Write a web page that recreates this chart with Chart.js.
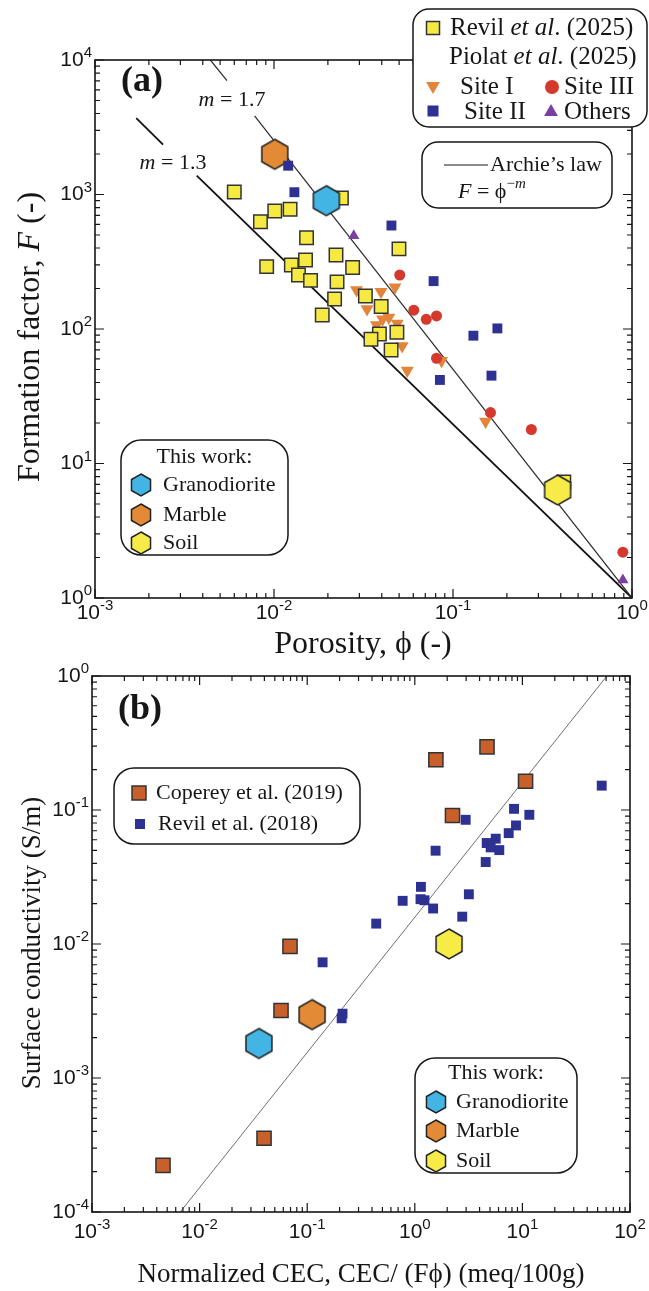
<!DOCTYPE html>
<html>
<head>
<meta charset="utf-8">
<title>Formation factor and surface conductivity</title>
<script src="https://cdn.jsdelivr.net/npm/chart.js@4.4.1/dist/chart.umd.min.js"></script>
<style>
  body { margin: 0; background: #fff; }
  #page { position: relative; width: 649px; height: 1291px; overflow: hidden; }
  canvas { position: absolute; left: 0; }
</style>
</head>
<body>
<div id="page">
  <canvas id="panelA" width="649" height="660" style="top:0px"></canvas>
  <canvas id="panelB" width="649" height="631" style="top:660px"></canvas>
</div>
<script>
// ---- Panel (a): porosity (-) vs formation factor (-) ----
const revil2025Phi = [0.0060, 0.0084, 0.0101, 0.0123, 0.0152, 0.0091, 0.0125, 0.0150, 0.0137, 0.0160, 0.0222, 0.0275,
                      0.0225, 0.0218, 0.0186, 0.0324, 0.0397, 0.0486, 0.0388, 0.0348, 0.0451, 0.0499, 0.0238, 0.416];
const revil2025F = [1044, 628, 754, 776, 477, 291, 299, 326, 252, 230, 355, 287,
                    224, 167, 127, 176, 147, 94.5, 91.8, 83.8, 69.8, 394, 942, 7.3];

const siteIPhi = [0.0289, 0.0396, 0.0474, 0.0331, 0.0404, 0.0438, 0.0488, 0.0374, 0.0520, 0.0555, 0.0863, 0.152];
const siteIF = [195, 189, 204, 141, 118, 122, 110, 107, 74.8, 49.1, 58.1, 20.5];

const siteIIPhi = [0.0120, 0.0130, 0.0453, 0.0779, 0.130, 0.177, 0.164, 0.0845];
const siteIIF = [1637, 1040, 588, 227, 89.2, 101, 45.0, 41.8];

const siteIIIPhi = [0.0504, 0.0604, 0.0709, 0.0809, 0.0809, 0.162, 0.274, 0.889];
const siteIIIF = [252, 138, 118, 125, 60.6, 23.9, 17.9, 2.19];

const othersPhi = [0.0279, 0.889];
const othersF = [494, 1.36];

const rockTypes = ['Granodiorite', 'Marble', 'Soil'];
const thisWorkPhi = [0.0196, 0.0101, 0.384];
const thisWorkF = [899, 1991, 6.35];

// Archie's law, F = phi^-m, each line has a gap where its label sits
const archie13Phi = [[0.0017, 0.0024], [0.0037, 1]];
const archie13F = [[3700, 2350], [1380, 1]];
const archie17Phi = [[0.00441, 0.00546], [0.00779, 1]];
const archie17F = [[10000, 7030], [3840, 1]];

// ---- Panel (b): normalized CEC (meq/100g) vs surface conductivity (S/m) ----
const copereyCEC = [1.57, 4.69, 10.7, 2.24, 0.0692, 0.0571, 0.0397, 0.00457];
const copereySigma = [0.237, 0.296, 0.164, 0.091, 0.00961, 0.00319, 0.000355, 0.000223];

const revil2018CEC = [8.36, 11.6, 8.72, 7.46, 5.65, 4.66, 5.07, 6.10, 4.56, 2.97, 1.56, 1.14,
                      0.771, 1.13, 1.23, 1.48, 3.18, 2.76, 0.438, 0.139, 0.213, 0.209, 54.6];
const revil2018Sigma = [0.102, 0.0921, 0.0767, 0.0672, 0.0611, 0.0567, 0.0526, 0.0502, 0.0409, 0.0845, 0.0497, 0.0267,
                        0.0210, 0.0216, 0.0212, 0.0184, 0.0235, 0.0160, 0.0142, 0.00730, 0.00302, 0.00279, 0.152];

const thisWorkCEC = [0.0356, 0.111, 2.08];
const thisWorkSigma = [0.00181, 0.00297, 0.0100];

const trendCEC = [0.0066, 61];
const trendSigma = [0.0001, 1];

// tick decades
const porosityExps = [-3, -2, -1, 0];
const formationExps = [0, 1, 2, 3, 4];
const cecExps = [-3, -2, -1, 0, 1, 2];
const sigmaExps = [-4, -3, -2, -1, 0];

// colors
const INK = '#161616';
const YELLOW = '#f6ea42';
const ORANGE_TRI = '#e2843a';
const RED = '#d5382c';
const BLUE = '#2d3192';
const PURPLE = '#7a3fa0';
const COPEREY = '#c9602c';
const rockColors = ['#42b5e4', '#e28a36', '#f7eb48'];

const SERIF = '"Liberation Serif", "Times New Roman", serif';
const SANS = '"Liberation Sans", Arial, sans-serif';
const TITLE_A = '32px ' + SERIF;
const TITLE_B = '27px ' + SERIF;
const LEG = '22px ' + SERIF;

const pts = (xs, ys) => xs.map((x, i) => ({ x: x, y: ys[i] }));

// ---- little drawing helpers ----
function hexPath(g, x, y, r) {
    g.beginPath();
    for (let k = 0; k < 6; k++) {
        const a = Math.PI / 3 * k - Math.PI / 2;
        const px = x + r * Math.cos(a), py = y + r * Math.sin(a);
        if (k) g.lineTo(px, py); else g.moveTo(px, py);
    }
    g.closePath();
}

function hexMarker(g, x, y, r, fill) {
    hexPath(g, x, y, r);
    g.fillStyle = fill;
    g.fill();
    g.lineWidth = 1.5;
    g.strokeStyle = '#222';
    g.stroke();
}

function hexImage(fill, r) {
    const c = document.createElement('canvas');
    const s = Math.ceil(2 * r + 4);
    c.width = s;
    c.height = s;
    hexMarker(c.getContext('2d'), s / 2, s / 2, r, fill);
    return c;
}

function squareMarker(g, x, y, side, fill, stroke) {
    g.fillStyle = fill;
    g.fillRect(x - side / 2, y - side / 2, side, side);
    if (stroke) {
        g.lineWidth = 1.5;
        g.strokeStyle = stroke;
        g.strokeRect(x - side / 2, y - side / 2, side, side);
    }
}

function triMarker(g, x, y, r, fill, down) {
    const s = down ? -1 : 1;
    g.beginPath();
    g.moveTo(x, y - s * r);
    g.lineTo(x + r * 0.866, y + s * r * 0.5);
    g.lineTo(x - r * 0.866, y + s * r * 0.5);
    g.closePath();
    g.fillStyle = fill;
    g.fill();
}

function dotMarker(g, x, y, r, fill) {
    g.beginPath();
    g.arc(x, y, r, 0, Math.PI * 2);
    g.fillStyle = fill;
    g.fill();
}

function roundBox(g, x, y, w, h, r) {
    g.beginPath();
    g.moveTo(x + r, y);
    g.arcTo(x + w, y, x + w, y + h, r);
    g.arcTo(x + w, y + h, x, y + h, r);
    g.arcTo(x, y + h, x, y, r);
    g.arcTo(x, y, x + w, y, r);
    g.closePath();
    g.fillStyle = '#fff';
    g.fill();
    g.lineWidth = 1.5;
    g.strokeStyle = INK;
    g.stroke();
}

// text made of runs with their own font and vertical shift
function drawRuns(g, runs, x, y, align) {
    let total = 0;
    runs.forEach(r => { g.font = r.font; r.w = g.measureText(r.text).width; total += r.w; });
    let cx = align === 'center' ? x - total / 2 : align === 'right' ? x - total : x;
    g.textAlign = 'left';
    g.textBaseline = 'middle';
    g.fillStyle = INK;
    runs.forEach(r => { g.font = r.font; g.fillText(r.text, cx, y + (r.dy || 0)); cx += r.w; });
}

function powLabel(exp) {
    return [{ text: '10', font: '21px ' + SANS }, { text: String(exp), font: '15px ' + SANS, dy: -7 }];
}

function logTicks(exps) {
    const out = [];
    exps.forEach((e, i) => {
        const base = Math.pow(10, e);
        out.push({ v: base, major: true, exp: e });
        if (i < exps.length - 1) {
            for (let k = 2; k <= 9; k++) out.push({ v: k * base, major: false });
        }
    });
    return out;
}

function drawAxes(chart, xExps, yExps, xLabelDy) {
    const g = chart.ctx;
    const a = chart.chartArea;
    const xs = chart.scales.x, ys = chart.scales.y;
    g.save();
    g.strokeStyle = INK;
    g.lineWidth = 1.2;
    g.beginPath();
    logTicks(xExps).forEach(t => {
        const px = xs.getPixelForValue(t.v);
        const len = t.major ? 9 : 5;
        g.moveTo(px, a.bottom); g.lineTo(px, a.bottom - len);
        g.moveTo(px, a.top); g.lineTo(px, a.top + len);
    });
    logTicks(yExps).forEach(t => {
        const py = ys.getPixelForValue(t.v);
        const len = t.major ? 9 : 5;
        g.moveTo(a.left, py); g.lineTo(a.left + len, py);
        g.moveTo(a.right, py); g.lineTo(a.right - len, py);
    });
    g.stroke();
    g.lineWidth = 1.6;
    g.strokeRect(a.left, a.top, a.right - a.left, a.bottom - a.top);
    logTicks(xExps).filter(t => t.major).forEach(t => {
        drawRuns(g, powLabel(t.exp), xs.getPixelForValue(t.v), a.bottom + xLabelDy, 'center');
    });
    logTicks(yExps).filter(t => t.major).forEach(t => {
        drawRuns(g, powLabel(t.exp), a.left - 3, ys.getPixelForValue(t.v), 'right');
    });
    g.restore();
}

function rotatedTitle(g, runs, x, y) {
    g.save();
    g.translate(x, y);
    g.rotate(-Math.PI / 2);
    drawRuns(g, runs, 0, 0, 'center');
    g.restore();
}

function thisWorkLegend(g, x, y, w, h, titleY, hexX, rowYs, textX) {
    roundBox(g, x, y, w, h, 20);
    drawRuns(g, [{ text: 'This work:', font: LEG }], x + w / 2, titleY, 'center');
    rockTypes.forEach((name, i) => {
        hexMarker(g, hexX, rowYs[i], 11, rockColors[i]);
        drawRuns(g, [{ text: name, font: LEG }], textX, rowYs[i], 'left');
    });
}

function decorA(chart) {
    const g = chart.ctx;
    drawAxes(chart, porosityExps, formationExps, 15);
    g.save();
    drawRuns(g, [{ text: '(a)', font: 'bold 36px ' + SERIF }], 121, 82, 'left');
    drawRuns(g, [{ text: 'm', font: 'italic 22px ' + SERIF }, { text: ' = 1.7', font: '22px ' + SERIF }], 232, 100, 'center');
    drawRuns(g, [{ text: 'm', font: 'italic 22px ' + SERIF }, { text: ' = 1.3', font: '22px ' + SERIF }], 173, 163, 'center');
    drawRuns(g, [{ text: 'Porosity, \u03d5 (-)', font: TITLE_A }], 363, 645, 'center');
    rotatedTitle(g, [{ text: 'Formation factor, ', font: TITLE_A }, { text: 'F', font: 'italic ' + TITLE_A },
                     { text: ' (-)', font: TITLE_A }], 31, 337);

    // references legend
    const LG = '25px ' + SERIF;
    roundBox(g, 413, 9, 234, 118, 16);
    squareMarker(g, 433, 28, 13, YELLOW, '#333');
    drawRuns(g, [{ text: 'Revil ', font: LG }, { text: 'et al', font: 'italic ' + LG }, { text: '. (2025)', font: LG }], 450, 28, 'left');
    drawRuns(g, [{ text: 'Piolat ', font: LG }, { text: 'et al', font: 'italic ' + LG }, { text: '. (2025)', font: LG }], 449, 57, 'left');
    triMarker(g, 433, 86, 8, ORANGE_TRI, true);
    drawRuns(g, [{ text: 'Site I', font: LG }], 460, 87, 'left');
    dotMarker(g, 552, 87, 7, RED);
    drawRuns(g, [{ text: 'Site III', font: LG }], 564, 87, 'left');
    squareMarker(g, 433, 111, 11, BLUE);
    drawRuns(g, [{ text: 'Site II', font: LG }], 464, 112, 'left');
    triMarker(g, 551, 112, 8, PURPLE, false);
    drawRuns(g, [{ text: 'Others', font: LG }], 564, 112, 'left');

    // Archie legend
    roundBox(g, 422, 142, 190, 66, 16);
    g.beginPath();
    g.moveTo(444, 165); g.lineTo(488, 165);
    g.lineWidth = 1.2; g.strokeStyle = INK; g.stroke();
    drawRuns(g, [{ text: 'Archie\u2019s law', font: LEG }], 490, 165, 'left');
    drawRuns(g, [{ text: 'F', font: 'italic ' + LEG }, { text: ' = \u03d5', font: LEG },
                 { text: '\u2212', font: '15px ' + SERIF, dy: -8 }, { text: 'm', font: 'italic 15px ' + SERIF, dy: -8 }], 458, 192, 'left');

    thisWorkLegend(g, 121, 440, 167, 115, 457, 141, [485, 515, 543], 163);
    g.restore();
}

function decorB(chart) {
    const g = chart.ctx;
    drawAxes(chart, cecExps, sigmaExps, 20);
    g.save();
    drawRuns(g, [{ text: '(b)', font: 'bold 36px ' + SERIF }], 118, 50, 'left');
    drawRuns(g, [{ text: 'Normalized CEC, CEC/ (F\u03d5) (meq/100g)', font: TITLE_B }], 361, 615, 'center');
    rotatedTitle(g, [{ text: 'Surface conductivity (S/m)', font: TITLE_B }], 33, 283);

    roundBox(g, 114, 108, 246, 76, 20);
    squareMarker(g, 139, 133, 14, COPEREY, '#333');
    drawRuns(g, [{ text: 'Coperey et al. (2019)', font: LEG }], 156, 133, 'left');
    squareMarker(g, 140, 164, 10, BLUE);
    drawRuns(g, [{ text: 'Revil et al. (2018)', font: LEG }], 158, 164, 'left');

    thisWorkLegend(g, 415, 398, 162, 115, 413, 436, [442, 471, 501], 456);
    g.restore();
}

const hexPoints = rockColors.map(c => hexImage(c, 15));

function baseOptions(padding, xMin, xMax, yMin, yMax) {
    return {
        responsive: false,
        animation: false,
        devicePixelRatio: 1,
        events: [],
        layout: { padding: padding },
        plugins: { legend: { display: false }, tooltip: { enabled: false } },
        scales: {
            x: { type: 'logarithmic', min: xMin, max: xMax, display: false },
            y: { type: 'logarithmic', min: yMin, max: yMax, display: false }
        }
    };
}

function lineSet(xs, ys, width, color, order) {
    return {
        data: pts(xs, ys), showLine: true, pointRadius: 0,
        borderColor: color, borderWidth: width, order: order
    };
}

// Panel (a)
const datasetsA = [
    { label: 'Site II', data: pts(siteIIPhi, siteIIF), pointStyle: 'rect', pointRadius: 7,
      pointBackgroundColor: BLUE, pointBorderWidth: 0, order: 1 },
    { label: 'This work', data: pts(thisWorkPhi, thisWorkF), pointStyle: hexPoints, pointRadius: 15, order: 2 },
    { label: 'Revil et al. (2025)', data: pts(revil2025Phi, revil2025F), pointStyle: 'rect', pointRadius: 9.5,
      pointBackgroundColor: YELLOW, pointBorderColor: '#333', pointBorderWidth: 1.5, order: 3 },
    { label: 'Others', data: pts(othersPhi, othersF), pointStyle: 'triangle', pointRadius: 6.5,
      pointBackgroundColor: PURPLE, pointBorderWidth: 0, order: 4 },
    { label: 'Site III', data: pts(siteIIIPhi, siteIIIF), pointStyle: 'circle', pointRadius: 5.5,
      pointBackgroundColor: RED, pointBorderWidth: 0, order: 5 },
    { label: 'Site I', data: pts(siteIPhi, siteIF), pointStyle: 'triangle', pointRadius: 7.5, pointRotation: 180,
      pointBackgroundColor: ORANGE_TRI, pointBorderWidth: 0, order: 6 }
];
archie17Phi.forEach((seg, i) => datasetsA.push(lineSet(seg, archie17F[i], 1.2, '#2a2a2a', 7)));
archie13Phi.forEach((seg, i) => datasetsA.push(lineSet(seg, archie13F[i], 1.8, '#111', 8)));

new Chart(document.getElementById('panelA'), {
    type: 'scatter',
    data: { datasets: datasetsA },
    options: baseOptions({ left: 95, right: 17, top: 60, bottom: 62 }, 0.001, 1, 1, 10000),
    plugins: [{ id: 'decorA', afterDraw: decorA }]
});

// Panel (b)
const datasetsB = [
    { label: 'This work', data: pts(thisWorkCEC, thisWorkSigma), pointStyle: hexPoints, pointRadius: 15, order: 1 },
    { label: 'Revil et al. (2018)', data: pts(revil2018CEC, revil2018Sigma), pointStyle: 'rect', pointRadius: 7,
      pointBackgroundColor: BLUE, pointBorderWidth: 0, order: 2 },
    { label: 'Coperey et al. (2019)', data: pts(copereyCEC, copereySigma), pointStyle: 'rect', pointRadius: 10,
      pointBackgroundColor: COPEREY, pointBorderColor: '#333', pointBorderWidth: 1.5, order: 3 },
    lineSet(trendCEC, trendSigma, 1, '#6e6e6e', 4)
];

new Chart(document.getElementById('panelB'), {
    type: 'scatter',
    data: { datasets: datasetsB },
    options: baseOptions({ left: 92, right: 19, top: 14, bottom: 79 }, 0.001, 100, 0.0001, 1),
    plugins: [{ id: 'decorB', afterDraw: decorB }]
});
</script>
</body>
</html>
